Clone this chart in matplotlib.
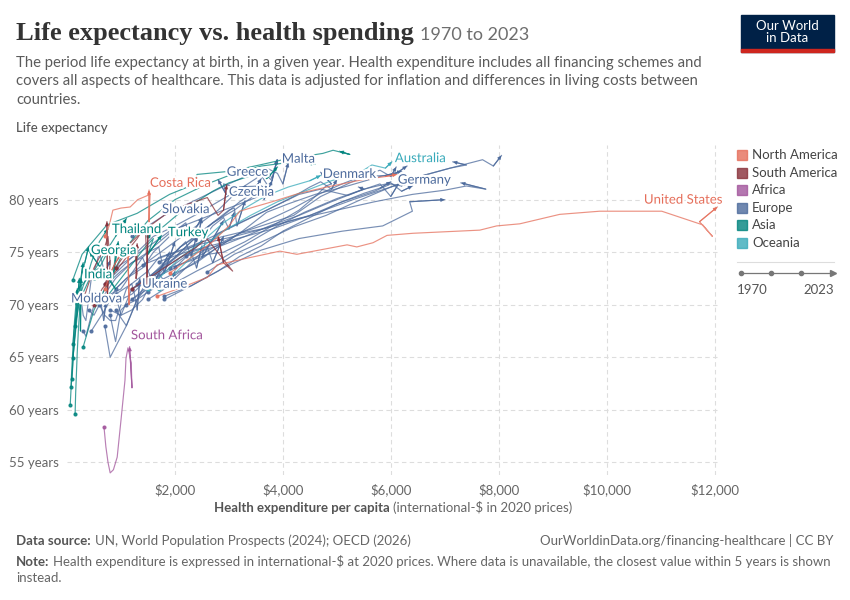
import matplotlib
matplotlib.use("Agg")
import matplotlib.pyplot as plt
import matplotlib.patheffects as pe
from matplotlib.patches import Rectangle
from matplotlib.ticker import FuncFormatter

plt.rcParams['font.family'] = ['Lato', 'DejaVu Sans']

# ---- data: health expenditure per capita (int-$, 2020 prices) vs life expectancy ----
# North America
united_states_x = [1670, 2100, 2600, 2780, 3400, 3945, 4260, 5190, 5370, 5670, 5930, 6410, 7650, 7960, 8390, 9130, 9870, 11020, 11780, 11960, 11720, 12050]
united_states_y = [70.8, 71.6, 72.6, 73.8, 74.5, 75.1, 74.8, 75.7, 75.5, 75.9, 76.6, 76.8, 77.1, 77.5, 77.7, 78.6, 78.9, 78.9, 77.6, 76.5, 77.9, 79.3]
canada_x = [1900, 2300, 2700, 3000, 3200, 3800, 4300, 4815, 5480, 5900, 6110]
canada_y = [73.0, 74.5, 76.0, 77.5, 78.9, 79.8, 80.6, 81.2, 81.9, 82.2, 82.4]
costa_rica_x = [700, 780, 850, 1000, 1170, 1310, 1540, 1520, 1520]
costa_rica_y = [76.5, 77.5, 79.0, 79.2, 79.3, 80.0, 80.5, 77.9, 80.9]
mexico_x = [700, 850, 950, 1050, 1130, 1150, 1130]
mexico_y = [71.5, 73.5, 74.5, 74.8, 75.7, 70.0, 75.0]

# South America
chile_x = [700, 900, 1100, 1400, 1800, 2200, 2600, 2800, 2900, 2960]
chile_y = [72.0, 74.0, 75.5, 77.0, 78.5, 79.5, 80.2, 78.5, 79.0, 81.4]
colombia_x = [900, 1100, 1300, 1450, 1480, 1480, 1500]
colombia_y = [73.5, 75.0, 76.3, 77.5, 74.0, 71.6, 77.2]
argentina_x = [1200, 1500, 1800, 2100, 2400, 2590, 3070, 2900, 2800]
argentina_y = [71.5, 72.5, 73.5, 74.5, 75.5, 76.3, 73.2, 74.0, 76.5]
brazil_x = [500, 650, 800, 950, 1100, 1250, 1300, 1280, 1300]
brazil_y = [70.0, 71.5, 72.5, 73.5, 74.5, 75.5, 73.0, 72.5, 75.8]
peru_x = [300, 400, 500, 600, 700, 760, 800, 750, 740]
peru_y = [70.5, 72.0, 73.5, 74.5, 75.5, 76.5, 74.0, 71.0, 77.9]

# Africa
south_africa_x = [685, 720, 760, 800, 860, 930, 1000, 1074, 1093, 1130, 1190, 1204, 1160]
south_africa_y = [58.4, 56.5, 55.0, 54.0, 54.3, 55.5, 59.0, 62.8, 64.9, 65.9, 64.5, 62.1, 66.0]

# Asia
japan_x = [110, 280, 740, 1300, 1900, 2330, 2410, 3020, 3570, 4000, 4740, 4930, 5240, 5050]
japan_y = [72.4, 74.8, 77.6, 78.7, 80.5, 81.4, 82.4, 82.7, 83.3, 83.8, 84.4, 84.7, 84.3, 84.6]
korea_x = [300, 500, 800, 1100, 1500, 2000, 2600, 3100, 3600, 4200, 4600]
korea_y = [66.0, 69.5, 72.5, 75.5, 78.0, 80.0, 81.5, 82.5, 83.2, 83.6, 83.4]
israel_x = [1500, 1800, 2100, 2400, 2700, 3000, 3300, 3600, 3700, 3900]
israel_y = [76.5, 77.5, 78.8, 79.8, 80.8, 81.6, 82.1, 82.6, 82.0, 83.1]
thailand_x = [250, 300, 380, 450, 520, 600, 700, 760]
thailand_y = [71.0, 71.8, 72.8, 74.0, 75.0, 76.0, 76.8, 77.2]
georgia_x = [150, 200, 300, 450, 600, 750, 900, 420]
georgia_y = [70.5, 71.5, 72.0, 73.0, 73.5, 72.8, 71.5, 75.0]
armenia_x = [500, 600, 700, 800, 900, 850, 950]
armenia_y = [72.5, 73.5, 74.5, 75.5, 75.0, 72.5, 76.0]
turkey_x = [700, 850, 1000, 1150, 1300, 1450, 1600, 1500, 1750]
turkey_y = [70.5, 71.5, 72.5, 73.5, 74.5, 75.5, 76.3, 74.8, 76.6]
china_x = [148, 240, 420, 650, 900, 1100]
china_y = [68.0, 70.5, 72.5, 74.5, 76.5, 78.2]
india_x = [60, 75, 95, 120, 150, 180, 210, 240, 250, 260]
india_y = [60.5, 62.0, 63.5, 65.5, 67.0, 68.5, 70.0, 71.0, 67.5, 72.5]
nepal_x = [150, 160, 175, 190, 210, 235, 260]
nepal_y = [59.6, 61.5, 63.5, 65.5, 67.5, 69.5, 70.5]
bangladesh_x = [74, 85, 100, 120, 140, 165, 190]
bangladesh_y = [62.2, 63.5, 65.0, 67.0, 68.5, 70.0, 71.5]
pakistan_x = [93, 105, 120, 140, 160, 185, 210, 230]
pakistan_y = [62.9, 64.0, 65.5, 67.0, 68.5, 70.5, 71.5, 72.5]
indonesia_x = [111, 125, 145, 170, 200, 230, 270, 300]
indonesia_y = [64.9, 65.8, 67.0, 68.5, 70.0, 71.5, 73.0, 74.0]
philippines_x = [111, 130, 160, 190, 230, 270, 330, 400]
philippines_y = [66.3, 67.5, 68.8, 70.0, 71.5, 72.8, 74.0, 75.5]

# Oceania
australia_x = [1700, 2100, 2500, 2900, 3400, 3900, 4400, 4900, 5400, 5650, 5900, 6020]
australia_y = [71.5, 73.5, 75.5, 77.0, 78.5, 79.8, 80.8, 81.8, 82.5, 83.3, 83.0, 83.6]
new_zealand_x = [1500, 1800, 2100, 2500, 2900, 3300, 3700, 4100, 4500, 4700]
new_zealand_y = [71.5, 73.0, 74.5, 76.0, 77.8, 79.2, 80.4, 81.2, 81.8, 82.3]

# Europe
malta_x = [1200, 1500, 1800, 2200, 2600, 3000, 3300, 3600, 3800, 3890]
malta_y = [76.5, 77.5, 78.5, 79.5, 80.5, 81.5, 82.2, 82.8, 81.8, 83.8]
greece_x = [900, 1200, 1500, 1900, 2400, 2900, 3400, 3800, 3600, 3100, 2900, 2950, 2800]
greece_y = [73.5, 74.5, 75.5, 77.0, 78.0, 79.0, 80.0, 80.8, 81.3, 81.2, 81.5, 80.5, 81.9]
denmark_x = [1900, 2300, 2600, 2900, 3300, 3800, 4300, 4600, 4800, 4900, 4700]
denmark_y = [73.5, 74.2, 74.8, 75.0, 76.0, 77.5, 79.0, 80.3, 81.3, 81.5, 82.6]
germany_x = [1800, 2300, 2800, 3200, 3600, 4000, 4500, 5000, 5500, 5800, 6000]
germany_y = [70.8, 71.8, 73.2, 74.6, 75.6, 77.0, 78.3, 79.6, 80.6, 81.1, 81.7]
czechia_x = [1100, 1300, 1500, 1700, 1900, 2200, 2500, 2800, 3000, 3100, 3150, 3300]
czechia_y = [70.0, 70.5, 71.2, 72.5, 74.0, 75.5, 77.0, 78.2, 79.0, 79.2, 77.5, 79.9]
slovakia_x = [1000, 1200, 1500, 1800, 2100, 2400, 2600, 2500, 2900]
slovakia_y = [70.5, 71.0, 72.5, 74.0, 75.5, 76.5, 77.0, 74.5, 78.0]
ukraine_x = [600, 700, 800, 900, 1000, 1100, 1200, 1250, 1300, 1350]
ukraine_y = [70.0, 69.0, 68.5, 68.5, 70.0, 71.5, 72.0, 71.0, 69.5, 72.5]
moldova_x = [300, 350, 400, 450, 500, 560, 620, 680, 720]
moldova_y = [67.5, 67.0, 68.0, 69.0, 70.0, 71.0, 70.5, 68.5, 70.2]
france_x = [1600, 2000, 2400, 2800, 3200, 3700, 4200, 4700, 5100, 5500, 5800, 6000, 6100]
france_y = [72.0, 73.0, 74.0, 75.5, 76.8, 78.0, 79.2, 80.6, 81.5, 82.3, 82.8, 82.2, 83.1]
italy_x = [1200, 1600, 2000, 2300, 2700, 3100, 3500, 3700, 3600, 3700, 3900, 4000, 4100]
italy_y = [71.5, 73.0, 74.5, 76.0, 77.8, 79.0, 80.5, 81.5, 82.3, 83.0, 82.5, 81.5, 83.5]
spain_x = [700, 1000, 1300, 1600, 2000, 2400, 2800, 3200, 3500, 3700, 3800, 3900]
spain_y = [72.0, 73.5, 75.0, 76.5, 77.5, 78.6, 79.8, 81.0, 82.0, 83.0, 82.0, 83.8]
netherlands_x = [2000, 2500, 2900, 3200, 3600, 4000, 4500, 5100, 5700, 6000, 6200, 6300]
netherlands_y = [73.6, 74.8, 76.0, 76.8, 77.2, 77.8, 78.5, 79.8, 80.8, 81.5, 81.3, 81.7]
sweden_x = [2200, 2600, 2900, 3200, 3400, 3700, 4100, 4600, 5200, 5800, 6100, 6300]
sweden_y = [74.6, 75.3, 75.8, 76.8, 77.6, 78.8, 79.6, 80.5, 81.3, 82.2, 82.5, 83.2]
switzerland_x = [2600, 3100, 3700, 4200, 4800, 5400, 6000, 6600, 7100, 7700, 7900, 8050]
switzerland_y = [73.1, 74.8, 76.2, 77.4, 78.5, 79.9, 81.2, 82.3, 83.0, 83.8, 83.2, 84.2]
norway_x = [1700, 2200, 2800, 3300, 3800, 4500, 5300, 6000, 6600, 7100, 7400, 7150]
norway_y = [74.1, 75.0, 75.8, 76.5, 77.2, 78.5, 80.0, 81.2, 82.3, 83.0, 83.3, 83.6]
austria_x = [1500, 1900, 2400, 2900, 3400, 3900, 4400, 5000, 5500, 6000, 6200, 6400]
austria_y = [70.5, 71.8, 73.2, 74.5, 76.0, 77.5, 78.8, 80.1, 81.0, 81.6, 80.8, 81.3]
belgium_x = [1500, 1900, 2300, 2800, 3300, 3800, 4300, 4900, 5400, 5800, 6000, 6200]
belgium_y = [71.2, 72.5, 73.8, 75.5, 76.5, 77.6, 78.5, 79.8, 80.8, 81.5, 80.3, 82.0]
united_kingdom_x = [1300, 1600, 1900, 2200, 2500, 2900, 3300, 3900, 4300, 4700, 5200, 5500, 5400]
united_kingdom_y = [72.0, 72.8, 74.0, 75.2, 76.0, 77.0, 78.0, 79.5, 80.5, 81.0, 80.4, 81.0, 81.2]
finland_x = [1200, 1500, 1900, 2300, 2600, 2800, 3200, 3700, 4200, 4500, 4700, 4900, 5000]
finland_y = [70.5, 71.8, 73.5, 75.0, 75.5, 76.8, 77.8, 79.0, 80.3, 81.2, 81.7, 81.0, 81.9]
ireland_x = [900, 1200, 1500, 1700, 2000, 2500, 3300, 4200, 4700, 5200, 5500, 5900, 6200]
ireland_y = [71.0, 72.0, 73.2, 74.5, 75.0, 76.0, 77.0, 78.5, 80.3, 81.5, 82.2, 82.3, 82.7]
luxembourg_x = [1800, 2300, 2900, 3600, 4300, 5100, 5850, 6400, 6350, 7000]
luxembourg_y = [70.5, 71.8, 73.5, 75.2, 76.3, 77.0, 77.5, 78.9, 79.8, 80.0]
iceland_x = [1400, 1900, 2500, 3100, 3700, 4300, 5000, 5700, 6400, 7000, 7400, 7760, 7300]
iceland_y = [73.8, 74.8, 75.8, 76.5, 77.3, 78.2, 79.0, 79.8, 80.5, 80.9, 81.3, 81.0, 81.6]
portugal_x = [450, 700, 900, 1200, 1600, 2000, 2400, 2800, 3100, 3300, 3450, 3600]
portugal_y = [67.5, 69.5, 71.5, 73.0, 74.5, 76.0, 77.5, 79.0, 80.5, 81.3, 80.8, 82.0]
slovenia_x = [1500, 1800, 2100, 2500, 2900, 3200, 3500, 3700, 3650, 3800]
slovenia_y = [72.5, 73.8, 75.5, 77.0, 78.5, 79.8, 80.8, 81.2, 80.0, 81.8]
estonia_x = [900, 1100, 1300, 1600, 2000, 2400, 2700, 2900, 3000, 3100]
estonia_y = [69.5, 68.0, 70.5, 72.5, 73.5, 75.5, 77.5, 78.3, 77.2, 78.8]
latvia_x = [800, 900, 1000, 1200, 1500, 1800, 2100, 2300, 2400, 2500]
latvia_y = [69.0, 66.5, 69.5, 70.5, 71.5, 73.5, 74.5, 75.0, 73.5, 75.6]
lithuania_x = [900, 1000, 1200, 1400, 1700, 2000, 2300, 2600, 2700, 2900]
lithuania_y = [71.0, 69.0, 71.5, 72.0, 71.5, 72.5, 74.0, 75.5, 74.0, 76.5]
hungary_x = [800, 1000, 1200, 1400, 1600, 1800, 2000, 2200, 2300, 2400]
hungary_y = [69.5, 69.0, 69.5, 70.5, 72.5, 74.0, 75.0, 76.0, 74.6, 76.5]
poland_x = [600, 800, 1000, 1200, 1400, 1600, 1900, 2200, 2400, 2500]
poland_y = [70.5, 71.0, 71.5, 73.0, 74.5, 75.5, 76.8, 77.6, 76.0, 78.2]
croatia_x = [900, 1100, 1400, 1600, 1800, 2000, 2200, 2300, 2500]
croatia_y = [71.5, 72.5, 73.5, 75.0, 76.0, 77.0, 77.8, 76.5, 78.3]
romania_x = [400, 500, 600, 700, 900, 1200, 1500, 1700, 1800, 2000]
romania_y = [69.5, 69.0, 70.0, 71.0, 72.5, 74.0, 75.0, 75.5, 73.0, 76.0]
bulgaria_x = [500, 600, 700, 850, 1000, 1200, 1400, 1600, 1900]
bulgaria_y = [71.0, 70.5, 71.5, 72.5, 73.2, 74.0, 74.5, 72.0, 75.0]
russia_x = [700, 800, 900, 1100, 1300, 1500, 1700, 1900, 2000]
russia_y = [68.0, 65.0, 66.0, 68.0, 70.5, 72.5, 73.0, 71.5, 73.2]
belarus_x = [250, 300, 350, 400, 450, 550, 600, 700, 800]
belarus_y = [71.0, 69.0, 68.5, 70.5, 72.5, 74.0, 75.0, 73.0, 74.2]

regions = ["North America", "South America", "Africa", "Europe", "Asia", "Oceania"]
region_colors = ["#E56E5A", "#883039", "#A2559C", "#4C6A9C", "#00847E", "#38AABA"]

series = [
    ("Europe", malta_x, malta_y), ("Europe", greece_x, greece_y), ("Europe", denmark_x, denmark_y),
    ("Europe", germany_x, germany_y), ("Europe", czechia_x, czechia_y), ("Europe", slovakia_x, slovakia_y),
    ("Europe", ukraine_x, ukraine_y), ("Europe", moldova_x, moldova_y), ("Europe", france_x, france_y),
    ("Europe", italy_x, italy_y), ("Europe", spain_x, spain_y), ("Europe", netherlands_x, netherlands_y),
    ("Europe", sweden_x, sweden_y), ("Europe", switzerland_x, switzerland_y), ("Europe", norway_x, norway_y),
    ("Europe", austria_x, austria_y), ("Europe", belgium_x, belgium_y), ("Europe", united_kingdom_x, united_kingdom_y),
    ("Europe", finland_x, finland_y), ("Europe", ireland_x, ireland_y), ("Europe", luxembourg_x, luxembourg_y),
    ("Europe", iceland_x, iceland_y), ("Europe", portugal_x, portugal_y), ("Europe", slovenia_x, slovenia_y),
    ("Europe", estonia_x, estonia_y), ("Europe", latvia_x, latvia_y), ("Europe", lithuania_x, lithuania_y),
    ("Europe", hungary_x, hungary_y), ("Europe", poland_x, poland_y), ("Europe", croatia_x, croatia_y),
    ("Europe", romania_x, romania_y), ("Europe", bulgaria_x, bulgaria_y), ("Europe", russia_x, russia_y),
    ("Europe", belarus_x, belarus_y),
    ("Asia", japan_x, japan_y), ("Asia", korea_x, korea_y), ("Asia", israel_x, israel_y),
    ("Asia", thailand_x, thailand_y), ("Asia", georgia_x, georgia_y), ("Asia", armenia_x, armenia_y),
    ("Asia", turkey_x, turkey_y), ("Asia", china_x, china_y), ("Asia", india_x, india_y),
    ("Asia", nepal_x, nepal_y), ("Asia", bangladesh_x, bangladesh_y), ("Asia", pakistan_x, pakistan_y),
    ("Asia", indonesia_x, indonesia_y), ("Asia", philippines_x, philippines_y),
    ("Oceania", australia_x, australia_y), ("Oceania", new_zealand_x, new_zealand_y),
    ("South America", chile_x, chile_y), ("South America", colombia_x, colombia_y),
    ("South America", argentina_x, argentina_y), ("South America", brazil_x, brazil_y),
    ("South America", peru_x, peru_y),
    ("North America", canada_x, canada_y), ("North America", costa_rica_x, costa_rica_y),
    ("North America", mexico_x, mexico_y), ("North America", united_states_x, united_states_y),
    ("Africa", south_africa_x, south_africa_y),
]

# label text, region, anchor (left edge, vertical centre)
labels = [
    ("Malta", "Europe", 3980, 83.9), ("Greece", "Europe", 2960, 82.65), ("Denmark", "Europe", 4740, 82.45),
    ("Australia", "Oceania", 6075, 83.95), ("Germany", "Europe", 6130, 81.9), ("Costa Rica", "North America", 1537, 81.6),
    ("Czechia", "Europe", 3000, 80.75), ("Slovakia", "Europe", 1760, 79.1), ("United States", "North America", 10690, 80.0),
    ("Thailand", "Asia", 833, 77.2), ("Turkey", "Asia", 1870, 76.9), ("Georgia", "Asia", 444, 75.2),
    ("India", "Asia", 315, 72.9), ("Ukraine", "Europe", 1390, 72.0), ("Moldova", "Europe", 74, 70.6),
    ("South Africa", "Africa", 1185, 67.1),
]

y_ticks = [55, 60, 65, 70, 75, 80]
x_ticks = [2000, 4000, 6000, 8000, 10000, 12000]

W, H = 850, 600
fig = plt.figure(figsize=(8.5, 6), dpi=100)
ax = fig.add_axes([67 / W, 1 - 475 / H, (720 - 67) / W, (475 - 145) / H])
ax.set_xlim(0, 12100)
ax.set_ylim(53.8, 85.2)

color_of = dict(zip(regions, region_colors))
for region, xs, ys in series:
    c = color_of[region]
    ax.plot(xs, ys, color=c, lw=0.85, alpha=0.75, solid_joinstyle='round', zorder=2)
    ax.plot(xs[0], ys[0], 'o', color=c, ms=2.0, alpha=0.85, zorder=2)
    ax.annotate('', xy=(xs[-1], ys[-1]), xytext=(xs[-2], ys[-2]),
                arrowprops=dict(arrowstyle='-|>', mutation_scale=5, lw=0.8, color=c,
                                alpha=0.85, shrinkA=0, shrinkB=0), zorder=2)

for name, region, lx, ly in labels:
    ax.text(lx, ly, name, color=color_of[region], fontsize=9.5, ha='left', va='center', zorder=5,
            path_effects=[pe.withStroke(linewidth=3, foreground='white')])

ax.set_yticks(y_ticks)
ax.set_xticks(x_ticks)
ax.yaxis.set_major_formatter(FuncFormatter(lambda v, p: f"{v:.0f} years"))
ax.xaxis.set_major_formatter(FuncFormatter(lambda v, p: f"${v:,.0f}"))
ax.tick_params(length=0, labelsize=9.5, labelcolor='#666666', pad=6)
ax.grid(True, color='#dddddd', lw=0.8, ls=(0, (4, 3)))
for s in ax.spines.values():
    s.set_visible(False)
ax.set_axisbelow(True)


def fy(py):
    return 1 - py / H


renderer = fig.canvas.get_renderer()


def pair(x, y, first, second, size, c1, c2, w1='bold', w2='normal', fam=None, ha='left', size2=None, gap=4):
    kw = dict(transform=fig.transFigure, va='baseline')
    if fam:
        kw['family'] = fam
    t1 = fig.text(x / W, fy(y), first, fontsize=size, color=c1, weight=w1, **kw)
    bb = t1.get_window_extent(renderer)
    t2 = fig.text((bb.x1 + gap) / W, fy(y), second, fontsize=size2 or size, color=c2, weight=w2,
                  **dict(kw, family='Lato'))
    if ha == 'center':
        bb2 = t2.get_window_extent(renderer)
        tot = bb2.x1 - bb.x0
        t1.set_x((x - tot / 2) / W)
        t2.set_x((x - tot / 2 + (bb2.x0 - bb.x0)) / W)
    return t1, t2


# title
pair(16, 40, "Life expectancy vs. health spending", "1970 to 2023", 19, '#333333', '#6e6e6e',
     w1='bold', w2='normal', fam=['Liberation Serif', 'DejaVu Serif'], size2=13, gap=6)
sub = ["The period life expectancy at birth, in a given year. Health expenditure includes all financing schemes and",
       "covers all aspects of healthcare. This data is adjusted for inflation and differences in living costs between",
       "countries."]
for i, line in enumerate(sub):
    fig.text(16 / W, fy(67 + 18.5 * i), line, fontsize=10.7, color='#5b5b5b', va='baseline')
fig.text(16 / W, fy(132), "Life expectancy", fontsize=9.5, color='#555555', va='baseline', weight='medium')

# x-axis label
pair(393, 512, "Health expenditure per capita", "(international-$ in 2020 prices)", 9.5,
     '#555555', '#666666', ha='center')

# footer
pair(16, 545, "Data source:", "UN, World Population Prospects (2024); OECD (2026)", 9.5, '#555555', '#666666')
fig.text(834 / W, fy(545), "OurWorldinData.org/financing-healthcare | CC BY", fontsize=9.5,
         color='#666666', ha='right', va='baseline')
pair(16, 566, "Note:", "Health expenditure is expressed in international-$ at 2020 prices. Where data is unavailable, the closest value within 5 years is shown",
     9.5, '#555555', '#666666')
fig.text(16 / W, fy(582), "instead.", fontsize=9.5, color='#666666', va='baseline')

# logo
fig.add_artist(Rectangle((741 / W, fy(52)), 93 / W, 37 / H, transform=fig.transFigure,
                         color='#002147', zorder=10))
fig.add_artist(Rectangle((741 / W, fy(52)), 93 / W, 3 / H, transform=fig.transFigure,
                         color='#ce261e', zorder=11))
fig.text(787.5 / W, fy(32), "Our World\nin Data", fontsize=9.5, color='white', ha='center', va='center',
         linespacing=1.0, zorder=12)

# legend
for i, (reg, c) in enumerate(zip(regions, region_colors)):
    yy = 155 + 17.6 * i
    fig.add_artist(Rectangle((737 / W, fy(yy + 5)), 10 / W, 10 / H, transform=fig.transFigure,
                             color=c, alpha=0.8))
    fig.text(752 / W, fy(yy), reg, fontsize=9.5, color='#444444', va='center')

fig.add_artist(plt.Line2D([737 / W, 834 / W], [fy(262), fy(262)], color='#dddddd', lw=0.8,
                          transform=fig.transFigure))
fig.add_artist(plt.Line2D([741 / W, 830 / W], [fy(273), fy(273)], color='#777777', lw=0.9,
                          transform=fig.transFigure))
for px in [741, 771, 801]:
    fig.add_artist(plt.Line2D([px / W], [fy(273)], marker='o', ms=3, color='#777777',
                              transform=fig.transFigure))
fig.add_artist(plt.Line2D([833 / W], [fy(273)], marker='>', ms=4, color='#777777',
                          transform=fig.transFigure))
fig.text(737 / W, fy(290), "1970", fontsize=9.5, color='#555555', va='center')
fig.text(834 / W, fy(290), "2023", fontsize=9.5, color='#555555', va='center', ha='right')

fig.savefig("out.png", dpi=100)
